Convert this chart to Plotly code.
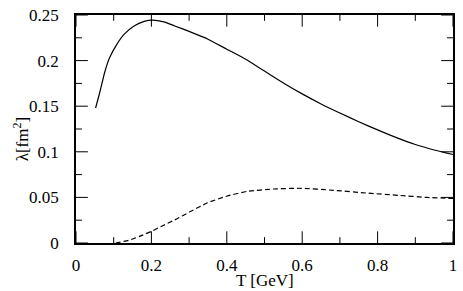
import plotly.graph_objects as go

# Solid curve
T_solid = [0.052, 0.063, 0.076, 0.089, 0.107, 0.128, 0.154, 0.181, 0.202, 0.233, 0.262,
           0.30, 0.336, 0.35, 0.4, 0.45, 0.5, 0.55, 0.6, 0.65, 0.7, 0.75, 0.8, 0.85, 0.9,
           0.95, 1.0]
lam_solid = [0.148, 0.165, 0.187, 0.203, 0.217, 0.229, 0.238, 0.243, 0.2443, 0.2425, 0.238,
             0.232, 0.226, 0.2235, 0.2125, 0.2015, 0.1885, 0.1755, 0.1635, 0.1525, 0.1425,
             0.1330, 0.1240, 0.1155, 0.1080, 0.1020, 0.0970]

# Dashed curve
T_dash = [0.105, 0.14, 0.17, 0.2, 0.23, 0.262, 0.301, 0.349, 0.401, 0.454, 0.524, 0.595,
          0.683, 0.77, 0.857, 0.93, 1.0]
lam_dash = [0.0, 0.003, 0.0075, 0.0128, 0.019, 0.0253, 0.034, 0.0441, 0.0515, 0.0566,
            0.0592, 0.060, 0.0578, 0.0548, 0.0522, 0.050, 0.0488]

x_ticks = [0, 0.2, 0.4, 0.6, 0.8, 1]
x_labels = ["0", "0.2", "0.4", "0.6", "0.8", "1"]
x_minor = [0.1, 0.3, 0.5, 0.7, 0.9]
y_ticks = [0, 0.05, 0.1, 0.15, 0.2, 0.25]
y_labels = ["0", "0.05", "0.1", "0.15", "0.2", "0.25"]
y_minor = [0.025, 0.075, 0.125, 0.175, 0.225]

X_RANGE = [0, 1]
Y_RANGE = [0, 0.25]
W, H = 463, 291
M = dict(l=76, r=6, t=9, b=48)
plot_w = W - M["l"] - M["r"]
plot_h = H - M["t"] - M["b"]
MAJOR_PX, MINOR_PX = 12, 6

# tick marks drawn inside the frame (all four sides)
def tick_segments():
    xs, ys = [], []
    ux = (X_RANGE[1] - X_RANGE[0]) / plot_w
    uy = (Y_RANGE[1] - Y_RANGE[0]) / plot_h
    for vals, px in ((x_ticks, MAJOR_PX), (x_minor, MINOR_PX)):
        for v in vals:
            xs += [v, v, None, v, v, None]
            ys += [Y_RANGE[0], Y_RANGE[0] + px * uy, None, Y_RANGE[1], Y_RANGE[1] - px * uy, None]
    for vals, px in ((y_ticks, MAJOR_PX), (y_minor, MINOR_PX)):
        for v in vals:
            xs += [X_RANGE[0], X_RANGE[0] + px * ux, None, X_RANGE[1], X_RANGE[1] - px * ux, None]
            ys += [v, v, None, v, v, None]
    return xs, ys

fig = go.Figure()
tx, ty = tick_segments()
fig.add_trace(go.Scatter(x=tx, y=ty, mode="lines", line=dict(color="black", width=1),
                         hoverinfo="skip", showlegend=False, cliponaxis=False))
fig.add_trace(go.Scatter(x=T_solid, y=lam_solid, mode="lines",
                         line=dict(color="black", width=1.2, shape="spline", smoothing=0.5),
                         showlegend=False))
fig.add_trace(go.Scatter(x=T_dash, y=lam_dash, mode="lines",
                         line=dict(color="black", width=1.2, dash="5px,3px", shape="spline", smoothing=0.5),
                         showlegend=False))

font = dict(family="Liberation Serif, Times New Roman, serif", size=17, color="black")

fig.update_layout(
    width=W, height=H,
    margin=M,
    paper_bgcolor="white", plot_bgcolor="white",
    font=font,
    xaxis=dict(range=X_RANGE, tickmode="array", tickvals=x_ticks, ticktext=x_labels,
               ticks="", showline=True, linecolor="black", linewidth=1.5,
               mirror=True, showgrid=False, zeroline=False, ticklabeloverflow="allow",
               ticklabelstandoff=6, tickfont=font),
    yaxis=dict(range=Y_RANGE, tickmode="array", tickvals=y_ticks, ticktext=y_labels,
               ticks="", showline=True, linecolor="black", linewidth=1.5,
               mirror=True, showgrid=False, zeroline=False, ticklabeloverflow="allow",
               ticklabelstandoff=12, tickfont=font),
    annotations=[
        dict(text="T [GeV]", xref="paper", yref="paper", x=0.5, y=-0.165, xanchor="center",
             yanchor="middle", showarrow=False, font=font),
        dict(text="λ[fm<sup>2</sup>]", xref="paper", yref="paper", x=-0.147, y=0.453,
             xanchor="center", yanchor="middle", textangle=-90, showarrow=False, font=font),
    ],
)

fig.write_html("out.html", config={"displayModeBar": False},
               post_script="document.body.style.margin='0';document.body.style.padding='0';")
